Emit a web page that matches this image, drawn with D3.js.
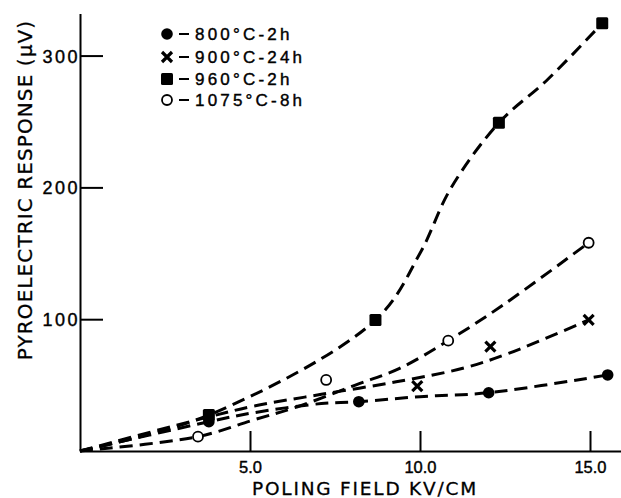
<!DOCTYPE html>
<html><head><meta charset="utf-8">
<script src="https://cdn.jsdelivr.net/npm/d3@7"></script>
<style>body{margin:0;background:#fff}svg{display:block}</style>
</head><body><svg id="c" width="621" height="498"></svg>
<script>
// ---- data ----
const seriesNames = ["800°C-2h", "900°C-24h", "960°C-2h", "1075°C-8h"];
const seriesMarkers = ["dot", "cross", "square", "ring"];
// measured points [field kV/cm, response µV]
const pts800  = [[3.79,22.2],[8.2,37.4],[12.02,44.2],[15.52,57.7]];
const pts900  = [[9.92,49.3],[12.07,79.1],[14.96,99.4]];
const pts960  = [[3.79,27.3],[8.69,99.4],[12.32,249],[15.36,324.5]];
const pts1075 = [[3.47,10.9],[7.24,53.9],[10.83,83.7],[14.96,158]];
// hand-drawn dashed fit curves, knots
const fit800  = [[0,0],[3.79,22.2],[5.1,29],[7.1,36],[8.2,37.4],[10,41.2],[12.02,44.2],[15.52,57.7]];
const fit900  = [[0,0],[3.8,26],[5.1,34],[7.1,43],[9.3,52.5],[11.3,63],[12.6,74],[14.96,99.4]];
const fit960  = [[0,0],[3.79,27.3],[8.69,99.4],[10,150],[10.9,199],[12.32,249],[13.74,281.5],[15.36,324.5]];
const fit1075 = [[0,0],[3.47,10.9],[5.1,23.5],[6.4,33.6],[8.1,50],[9.4,62.7],[10.83,83.7],[12.4,110],[14.96,158]];
const xTicks = [5, 10, 15];
const xTickLabels = ["5.0", "10.0", "15.0"];
const yTicks = [100, 200, 300];
const xTitle = "POLING FIELD KV/CM";
const yTitle = "PYROELECTRIC RESPONSE (\u03BCV)";

const allPts = [pts800, pts900, pts960, pts1075];
const allFits = [fit800, fit900, fit960, fit1075];

// ---- chart ----
const svg = d3.select("#c");
const x = d3.scaleLinear().domain([0, 16]).range([80, 624]);
const y = d3.scaleLinear().domain([0, 332]).range([451, 13.4]);

const line = d3.line().x(d => x(d[0])).y(d => y(d[1])).curve(d3.curveCatmullRom.alpha(0.5));

svg.append("g").selectAll("path").data(allFits).join("path")
  .attr("d", line).attr("fill", "none").attr("stroke", "#000")
  .attr("stroke-width", 3).attr("stroke-dasharray", "13,7");

const font = "'Liberation Sans', Arial, sans-serif";
// axes
const gx = svg.append("g").attr("transform", `translate(0,${y(0)})`)
  .call(d3.axisBottom(x).tickValues(xTicks).tickFormat((d,i) => xTickLabels[i])
    .tickSize(-20).tickSizeOuter(0).tickPadding(10));
const gy = svg.append("g").attr("transform", `translate(${x(0)},0)`)
  .call(d3.axisLeft(y).tickValues(yTicks).tickFormat(d3.format("d"))
    .tickSize(-23).tickSizeOuter(0).tickPadding(0));
[gx, gy].forEach(g => {
  g.select(".domain").attr("stroke", "#000").attr("stroke-width", 2);
  g.selectAll(".tick line").attr("stroke", "#000").attr("stroke-width", 2);
  g.selectAll(".tick text").attr("fill", "#000").attr("stroke", "#000").attr("stroke-width", 0.4)
    .attr("font-family", font).attr("font-size", 16.5);
});
gx.selectAll(".tick text").attr("dy", "0.72em");
gy.selectAll(".tick text").attr("letter-spacing", 2.5).attr("dy", "0.36em").attr("font-size", 18);

// markers
function drawMarker(g, type, cx, cy) {
  if (type === "dot") g.append("circle").attr("cx", cx).attr("cy", cy).attr("r", 5.8).attr("fill", "#000");
  else if (type === "square") g.append("rect").attr("x", cx - 6).attr("y", cy - 6).attr("width", 12).attr("height", 12).attr("rx", 1.5).attr("fill", "#000");
  else if (type === "ring") g.append("circle").attr("cx", cx).attr("cy", cy).attr("r", 5).attr("fill", "#fff").attr("stroke", "#000").attr("stroke-width", 1.8);
  else if (type === "cross") {
    const s = 5;
    g.append("path").attr("d", `M${cx-s},${cy-s}L${cx+s},${cy+s}M${cx+s},${cy-s}L${cx-s},${cy+s}`)
      .attr("stroke", "#000").attr("stroke-width", 3.2).attr("fill", "none");
  }
}
const gm = svg.append("g");
allPts.forEach((pts, i) => pts.forEach(p => drawMarker(gm, seriesMarkers[i], x(p[0]), y(p[1]))));

// legend
const legRows = [34, 57, 79, 100];
const gl = svg.append("g");
seriesNames.forEach((name, i) => {
  drawMarker(gl, seriesMarkers[i], 167, legRows[i]);
  gl.append("line").attr("x1", 179).attr("x2", 189).attr("y1", legRows[i]).attr("y2", legRows[i])
    .attr("stroke", "#000").attr("stroke-width", 2);
  gl.append("text").attr("x", 195).attr("y", legRows[i]).attr("dy", "0.36em")
    .attr("font-family", font).attr("font-size", 17).attr("stroke", "#000").attr("stroke-width", 0.4)
    .attr("letter-spacing", 3.2).text(name);
});

// titles
svg.append("text").attr("x", 365).attr("y", 495).attr("text-anchor", "middle")
  .attr("font-family", "'DejaVu Sans', sans-serif").attr("font-size", 18.5).attr("letter-spacing", 1.8)
  .attr("stroke", "#000").attr("stroke-width", 0.3)
  .text(xTitle);
svg.append("text").attr("transform", "translate(32,190) rotate(-90)").attr("text-anchor", "middle")
  .attr("font-family", "'DejaVu Sans', sans-serif").attr("font-size", 20).attr("letter-spacing", 1.1)
  .attr("stroke", "#000").attr("stroke-width", 0.3)
  .text(yTitle);
</script></body></html>
